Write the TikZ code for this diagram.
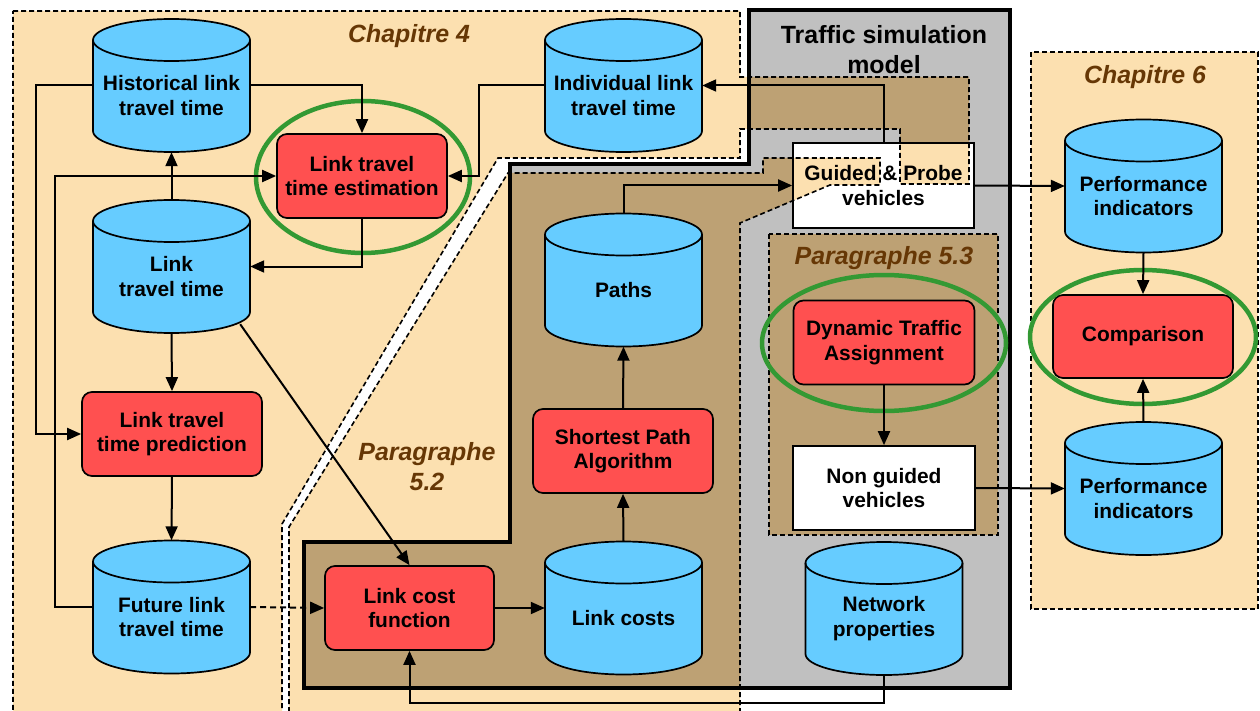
\documentclass[tikz,border=0pt]{standalone}
\usepackage{fontspec}
\setmainfont{Liberation Sans}
\usetikzlibrary{arrows.meta,calc}
\definecolor{cylblue}{RGB}{102,204,255}
\definecolor{boxred}{RGB}{255,80,80}
\definecolor{ringgreen}{RGB}{51,153,51}
\definecolor{simgray}{RGB}{192,192,192}
\definecolor{zoneorange}{RGB}{252,224,176}
\definecolor{warmtint}{RGB}{255,245,225}
\definecolor{labelbrown}{RGB}{102,55,5}
\tikzset{
 cylbody/.style={fill=cylblue, draw=black, line width=1.7bp},
 cylanchor/.style={rectangle, minimum width=157bp, minimum height=133bp, inner sep=0pt},
 txt/.style={font=\bfseries\fontsize{21}{24.5}\selectfont, align=center, inner sep=0pt},
 redbox/.style={rectangle, rounded corners=10bp, fill=boxred, draw=black, line width=1.7bp, minimum height=84bp, txt},
 whitebox/.style={rectangle, fill=white, draw=black, line width=1.7bp, minimum height=84bp, txt},
 ring/.style={draw=ringgreen, line width=4.5bp},
 zone/.style={fill=zoneorange, draw=black, line width=1.6bp, dash pattern=on 5bp off 3bp},
 zonetitle/.style={font=\bfseries\itshape\fontsize{25}{30}\selectfont, text=labelbrown, align=center, inner sep=0pt},
 simtitlestyle/.style={font=\bfseries\fontsize{25}{30}\selectfont, text=black, align=center, inner sep=0pt},
 arr/.style={draw=black, line width=2bp, -{Triangle[length=14bp,width=12bp]}},
 zoneApath/.style={insert path={(13,11) -- (740,11) -- (740,77) -- (969,77) -- (969,184) -- (900,184) -- (900,129) -- (740,129) -- (740,158) -- (498,158) -- (282,524) -- (282,720) -- (13,720) -- cycle}},
 zoneBpath/.style={insert path={(289,720) -- (289,527) -- (508,173) -- (763,173) -- (763,158) -- (880,158) -- (880,185) -- (830,185) -- (740,223) -- (740,720) -- cycle}},
 zoneCpath/.style={insert path={(769,234) rectangle (998,535)}},
 zoneDpath/.style={insert path={(1031,52) rectangle (1258,609)}},
 simpath/.style={insert path={(749,10) -- (1010,10) -- (1010,688) -- (304,688) -- (304,542) -- (510,542) -- (510,164) -- (749,164) -- cycle}},
}
\newcommand\dbcyl[4]{%
 \begin{scope}[shift={(#2,#3)}]
  \path[cylbody] (-78.5,-45.5) -- (-78.5,45.5) arc[start angle=180,end angle=0,x radius=78.5,y radius=21] -- (78.5,-45.5) arc[start angle=0,end angle=-180,x radius=78.5,y radius=21] -- cycle;
  \draw[cylbody, fill=none] (-78.5,-45.5) arc[start angle=180,end angle=0,x radius=78.5,y radius=21];
 \end{scope}
 \node[cylanchor] (#1) at (#2,#3) {};
 \node[txt] at (#2,#3+10) {#4};
}
\begin{document}
\begin{tikzpicture}[x=1bp,y=-1bp]
\path[use as bounding box] (0,0) rectangle (1260,711);
\clip (0,0) rectangle (1260,711);
\fill[white] (0,0) rectangle (1260,711);

% traffic simulation model (gray)
\filldraw[fill=simgray, draw=black, line width=3.2bp, simpath];
% warmer tint where the zones lie over the gray model
\begin{scope}
 \clip[simpath];
 \begin{scope}[blend mode=multiply]
  \fill[warmtint, zoneApath];
  \fill[warmtint, zoneBpath];
  \fill[warmtint, zoneCpath];
 \end{scope}
\end{scope}
\node[simtitlestyle] (simtitle) at (884,50) {Traffic simulation\\model};

% guided & probe vehicles (under overlays)
\node[whitebox, minimum width=181bp, minimum height=85bp] (guided) at (883.5,185.5) {Guided \& Probe\\vehicles};

% overlays
\begin{scope}[blend mode=multiply]
\filldraw[zone, zoneApath];
\filldraw[zone, zoneBpath];
\filldraw[zone, zoneCpath];
\filldraw[zone, zoneDpath];
\end{scope}

% zone titles
\node[zonetitle] (ch4) at (409,36) {Chapitre 4};
\node[zonetitle] (ch6) at (1145,77) {Chapitre 6};
\node[zonetitle] (p53) at (884,258) {Paragraphe 5.3};
\node[zonetitle] (p52) at (427,467) {Paragraphe\\5.2};

% databases
\dbcyl{hist}{171.5}{85.5}{Historical link\\travel time}
\dbcyl{indiv}{623.5}{85.5}{Individual link\\travel time}
\dbcyl{ltt}{171.5}{266.5}{Link\\travel time}
\dbcyl{paths}{623.5}{280}{Paths}
\dbcyl{fut}{171.5}{607}{Future link\\travel time}
\dbcyl{lcosts}{623.5}{608}{Link costs}
\dbcyl{netp}{884}{608.5}{Network\\properties}
\dbcyl{perf1}{1143.5}{186}{Performance\\indicators}
\dbcyl{perf2}{1143.5}{488.5}{Performance\\indicators}

% processes
\node[redbox, minimum width=170bp] (est) at (362,176) {Link travel\\time estimation};
\node[redbox, minimum width=180bp] (pred) at (172,434) {Link travel\\time prediction};
\node[redbox, minimum width=169bp] (lcf) at (409.5,608) {Link cost\\function};
\node[redbox, minimum width=180bp] (spa) at (623,451) {Shortest Path\\Algorithm};
\node[redbox, minimum width=181bp] (dta) at (884,342.5) {Dynamic Traffic\\Assignment};
\node[redbox, minimum width=180bp, minimum height=83bp] (comp) at (1143,336.5) {Comparison};
\node[whitebox, minimum width=182bp] (nong) at (884,488) {Non guided\\vehicles};

% green rings
\draw[ring] (363,177) ellipse [x radius=107, y radius=76];
\draw[ring] (884,343) ellipse [x radius=122, y radius=68];
\draw[ring] (1143,337) ellipse [x radius=113, y radius=67];

% connectors
\draw[arr] (ltt.north) -- (hist.south);
\draw[arr] (hist.east) -| (est.north);
\draw[arr] (fut.west) -- ++(-38,0) |- (est.west);
\draw[arr] (hist.west) -- ++(-57,0) |- (pred.west);
\draw[arr] (indiv.west) -- ++(-66,0) |- (est.east);
\draw[arr] (est.south) |- (ltt.east);
\draw[arr] (guided.north) |- (indiv.east);
\draw[arr] (paths.north) |- (guided.west);
\draw[arr] (guided.east) -- (perf1.west);
\draw[arr] ($(ltt.south east)+(-10,-9)$) -- (lcf.north);
\draw[arr] (ltt.south) -- (pred.north);
\draw[arr] (pred.south) -- (fut.north);
\draw[arr, dash pattern=on 6bp off 4bp] (fut.east) -- (lcf.west);
\draw[arr] (lcf.east) -- (lcosts.west);
\draw[arr] (lcosts.north) -- (spa.south);
\draw[arr] (spa.north) -- (paths.south);
\draw[arr] (netp.south) -- ++(0,28) -| (lcf.south);
\draw[arr] (dta.south) -- (nong.north);
\draw[arr] (nong.east) -- (perf2.west);
\draw[arr] (perf1.south) -- (comp.north);
\draw[arr] (perf2.north) -- (comp.south);
\end{tikzpicture}
\end{document}
